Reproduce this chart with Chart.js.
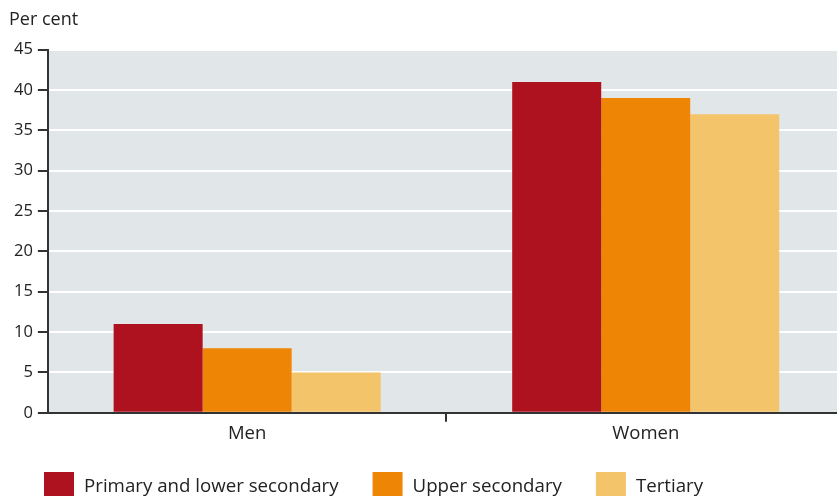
<!DOCTYPE html>
<html>
<head>
<meta charset="utf-8">
<script src="https://cdn.jsdelivr.net/npm/chart.js@4"></script>
<style>
  body { margin: 0; background: #fff; overflow: hidden; }
  /* plot runs a little past the right edge of the window, as in the original */
  #wrap { width: 845px; height: 496px; }
</style>
</head>
<body>
<div id="wrap"><canvas id="chart"></canvas></div>
<script>
const categories = ['Men', 'Women'];
const seriesNames = ['Primary and lower secondary', 'Upper secondary', 'Tertiary'];
const primary = [11, 41];
const upper = [8, 39];
const tertiary = [5, 37];
const colours = ['#ae121e', '#ee8505', '#f4c46a'];

const FONT = '"Open Sans", Lato, sans-serif';

// grey plot background
const plotBg = {
    id: 'plotBg',
    beforeDraw(chart) {
        const { ctx, chartArea: a } = chart;
        ctx.save();
        ctx.fillStyle = '#e1e6e9';
        ctx.fillRect(a.left, a.top, a.right - a.left, a.bottom - a.top);
        ctx.restore();
    }
};

// legend along the bottom, left aligned
const bottomLegend = {
    id: 'bottomLegend',
    afterDraw(chart) {
        const ctx = chart.ctx;
        ctx.save();
        ctx.font = '18.7px ' + FONT;
        ctx.textBaseline = 'middle';
        let x = 44;
        const y = 472;
        chart.data.datasets.forEach(ds => {
            ctx.fillStyle = ds.backgroundColor;
            ctx.fillRect(x, y, 30, 24);
            x += 40;
            ctx.fillStyle = '#222';
            ctx.fillText(ds.label, x, y + 15);
            x += ctx.measureText(ds.label).width + 34;
        });
        ctx.restore();
    }
};

new Chart(document.getElementById('chart').getContext('2d'), {
    type: 'bar',
    data: {
        labels: categories,
        datasets: [
            { label: seriesNames[0], data: primary, backgroundColor: colours[0] },
            { label: seriesNames[1], data: upper, backgroundColor: colours[1] },
            { label: seriesNames[2], data: tertiary, backgroundColor: colours[2] }
        ]
    },
    options: {
        responsive: true,
        maintainAspectRatio: false,
        animation: false,
        layout: { padding: { left: 9, right: 0, top: 0, bottom: 50 } },
        datasets: { bar: { barPercentage: 1, categoryPercentage: 0.67 } },
        plugins: {
            legend: { display: false },
            tooltip: { enabled: false },
            title: {
                display: true,
                text: 'Per cent',
                align: 'start',
                color: '#222',
                font: { family: FONT, size: 18, weight: 'normal' },
                padding: { top: 9, bottom: 19 }
            }
        },
        scales: {
            x: {
                grid: {
                    drawOnChartArea: false,
                    tickColor: c => (c.index === 1 ? '#333' : 'rgba(0,0,0,0)'),
                    tickLength: 9,
                    lineWidth: 2
                },
                border: { color: '#333', width: 2 },
                ticks: { color: '#222', font: { family: FONT, size: 18.5 }, padding: 1 }
            },
            y: {
                min: 0, max: 45,
                ticks: { stepSize: 5, color: '#222', font: { family: FONT, size: 16.5 }, padding: 5 },
                grid: { color: '#ffffff', lineWidth: 2, tickColor: '#333', tickLength: 10 },
                border: { color: '#333', width: 2 }
            }
        }
    },
    plugins: [plotBg, bottomLegend]
});
</script>
</body>
</html>
